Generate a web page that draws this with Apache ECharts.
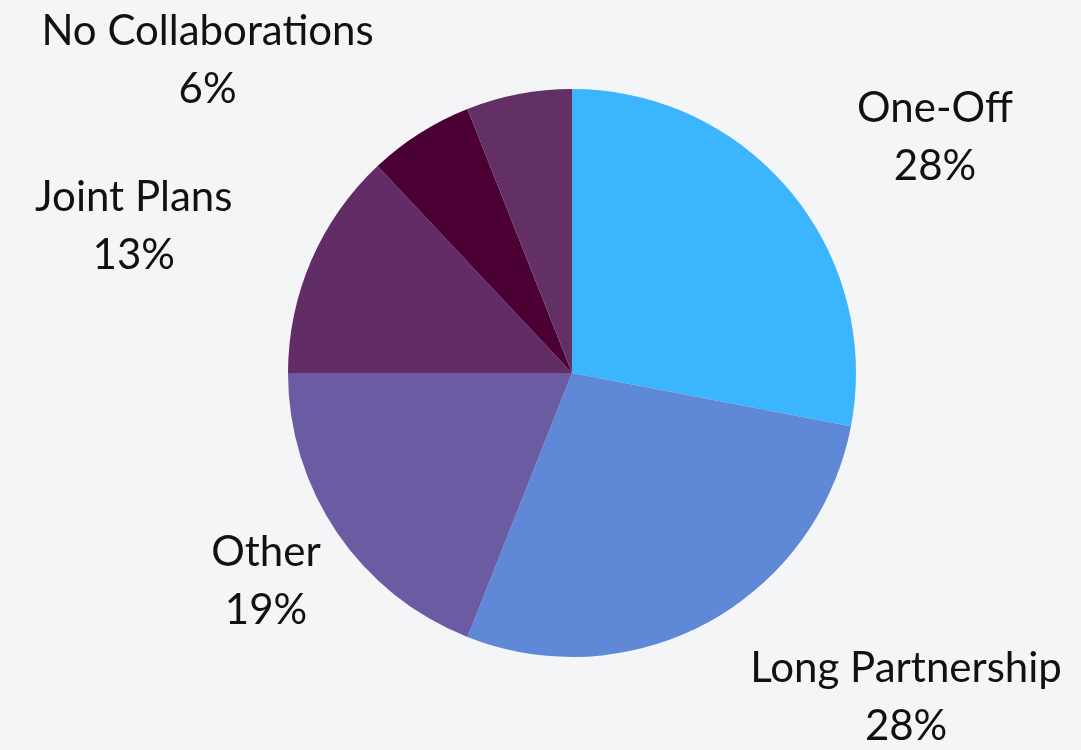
<!DOCTYPE html>
<html>
<head>
<meta charset="utf-8">
<script src="https://cdn.jsdelivr.net/npm/echarts@6/dist/echarts.min.js"></script>
<style>
  html, body { margin: 0; padding: 0; background: #f4f5f7; }
  #chart { width: 1081px; height: 750px; }
</style>
</head>
<body>
<div id="chart"></div>
<script>
// Collaboration types, clockwise from twelve o'clock
const categories = ['One-Off', 'Long Partnership', 'Other', 'Joint Plans', 'No Collaborations', 'Unspecified'];
const shares = [28, 28, 19, 13, 6, 6];
const colors = ['#3bb5fe', '#5f89d7', '#6a5ba3', '#622c66', '#4a0033', '#623065'];
// slices whose label is not shown
const hiddenLabels = ['Unspecified'];
// label drawn centred on its anchor instead of right-aligned
const centredLabels = ['Other'];

const chart = echarts.init(document.getElementById('chart'));

chart.setOption({
  backgroundColor: '#f4f5f7',
  animation: false,
  series: [{
    type: 'pie',
    center: [572, 373],
    radius: 284,
    startAngle: 90,
    clockwise: true,
    avoidLabelOverlap: false,
    itemStyle: { borderWidth: 0 },
    label: {
      show: true,
      position: 'outside',
      distanceToLabelLine: 0,
      fontFamily: 'Lato',
      color: '#111111',
      formatter: p => '{n|' + p.name + '}\n{n|' + Math.round(p.percent) + '%}',
      rich: {
        n: { fontFamily: 'Lato', fontSize: 42, lineHeight: 58, color: '#111111', align: 'center' }
      }
    },
    labelLine: { show: false, length: 86, length2: 0 },
    labelLayout: p => centredLabels.indexOf(categories[p.dataIndex]) >= 0 ? { align: 'center' } : {},
    emphasis: { disabled: true },
    data: categories.map((name, i) => ({
      name: name,
      value: shares[i],
      itemStyle: { color: colors[i] },
      label: { show: hiddenLabels.indexOf(name) < 0 }
    }))
  }]
});
</script>
</body>
</html>
